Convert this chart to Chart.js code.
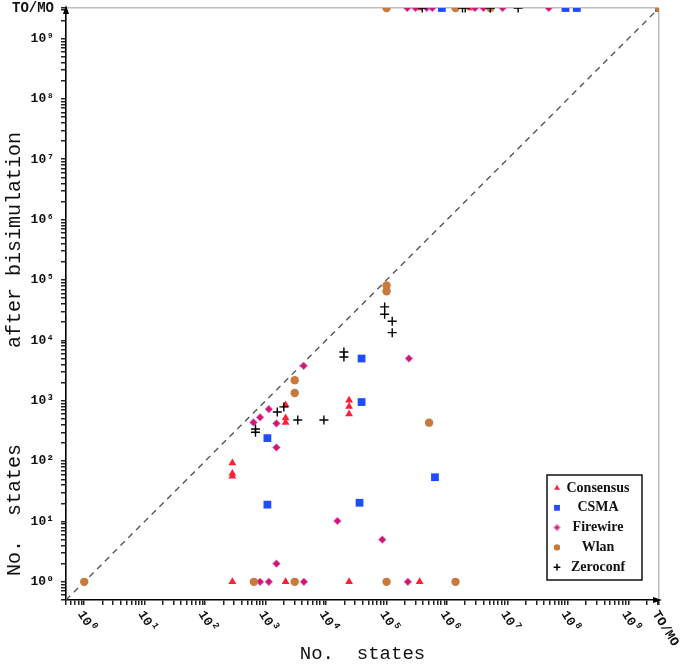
<!DOCTYPE html>
<html>
<head>
<meta charset="utf-8">
<title>No. states vs No. states after bisimulation</title>
<script src="https://cdn.jsdelivr.net/npm/chart.js@4.4.1/dist/chart.umd.min.js"></script>
<style>
  html, body { margin: 0; padding: 0; background: #fff; }
  #wrap { position: relative; width: 685px; height: 664px; }
</style>
</head>
<body>
<div id="wrap"><canvas id="bisimChart"></canvas></div>
<script>
// TO/MO (timeout / memory out) is plotted on the outer edge of both axes
const TO = 3.2e9;
const axisMin = 0.5;
const diagonal = [axisMin, TO];

const seriesNames = ['Consensus', 'CSMA', 'Firewire', 'Wlan', 'Zeroconf'];
const seriesColors = ['#ff1f35', '#1f4cff', '#d0157a', '#c77a3c', '#000000'];

// Consensus
const consensusX = [282, 2140, 24000, 352000, 282, 282, 282, 2140, 2140, 2140, 24000, 24000, 24000, 338000, 2450000];
const consensusY = [1, 1, 1, 1, 93, 62, 56, 850, 515, 436, 1020, 800, 600, TO, TO];

// CSMA
const csmaX = [38600, 38600, 1070, 1070, 35700, 631000, 820000, 9.1e7, 1.4e8, TO];
const csmaY = [5000, 950, 240, 19, 20.4, 54, TO, TO, TO, TO];

// Firewire
const firewireX = [4260, 1130, 810, 630, 1510, 1510, 1510, 15400, 85000, 234000, 810, 1130, 4300, 225000,
                   2.2e5, 3.0e5, 4.6e5, 5.7e5, 2.9e6, 4.0e6, 8.3e6, 4.8e7];
const firewireY = [3780, 725, 530, 437, 420, 168, 2.0, 10.2, 5.0, 5000, 1, 1, 1, 1,
                   TO, TO, TO, TO, TO, TO, TO, TO];

// Wlan
const wlanX = [1, 640, 3030, 1e5, 1.38e6, 3030, 3030, 505000, 1e5, 1e5, 1e5, 1.38e6, 5.2e6, TO];
const wlanY = [1, 1, 1, 1, 1, 2190, 1340, 433, 81000, 65000, TO, TO, TO, TO];

// Zeroconf
const zeroconfX = [19700, 19700, 93000, 93000, 124000, 124000, 2000, 1560, 3400, 9200, 680, 680,
                   3.9e5, 1.8e6, 2.0e6, 5.2e6, 1.5e7];
const zeroconfY = [6400, 5300, 35800, 27000, 20700, 13400, 790, 650, 480, 480, 340, 300,
                   TO, TO, TO, TO, TO];

const sup = ['\u2070', '\u00b9', '\u00b2', '\u00b3', '\u2074', '\u2075', '\u2076', '\u2077', '\u2078', '\u2079'];

function zip(xs, ys) {
    return xs.map((x, i) => ({ x: x, y: ys[i] }));
}

// decades get a label, 2..9 get a plain minor tick, TO/MO closes the axis
function buildLogTicks(scale) {
    const ticks = [];
    for (let e = -1; e <= 9; e++) {
        for (let m = 1; m <= 9; m++) {
            const v = m * Math.pow(10, e);
            if (v >= scale.min && v < TO * 0.99) ticks.push({ value: v, dec: m === 1 ? e : null });
        }
    }
    ticks.push({ value: TO, tomo: true });
    scale.ticks = ticks;
}

// keep the plot box where it is, whatever the label sizes
function fixBox(size) {
    return function(s) {
        if (s.isHorizontal()) s.height = size; else s.width = size;
        s.paddingTop = 0;
        s.paddingBottom = 0;
        s.paddingLeft = 0;
        s.paddingRight = 0;
    };
}

const markers = [
    { pointStyle: 'triangle', radius: 4.5, borderWidth: 0 },
    { pointStyle: 'rect', radius: 5.5, borderWidth: 0 },
    { pointStyle: 'rectRot', radius: 3.8, borderWidth: 1 },
    { pointStyle: 'circle', radius: 4.2, borderWidth: 0 },
    { pointStyle: 'cross', radius: 4.5, borderWidth: 1.4 }
];

const seriesData = [
    zip(consensusX, consensusY),
    zip(csmaX, csmaY),
    zip(firewireX, firewireY),
    zip(wlanX, wlanY),
    zip(zeroconfX, zeroconfY)
];

const datasets = seriesNames.map((name, i) => ({
    label: name,
    data: seriesData[i],
    pointStyle: markers[i].pointStyle,
    pointRadius: markers[i].radius,
    pointHoverRadius: markers[i].radius,
    pointBorderWidth: markers[i].borderWidth,
    backgroundColor: seriesColors[i],
    borderColor: i === 2 ? 'rgba(235,120,180,0.8)' : seriesColors[i],
    order: 5 - i
}));

// y = x reference line
datasets.push({
    type: 'line',
    label: 'diagonal',
    data: [{ x: diagonal[0], y: diagonal[0] }, { x: diagonal[1], y: diagonal[1] }],
    borderColor: '#4d5a5a',
    borderWidth: 1.4,
    borderDash: [6, 5],
    pointRadius: 0,
    fill: false,
    order: 10
});

const monoFont = '"Liberation Mono", "DejaVu Sans Mono", monospace';

// x tick labels are turned clockwise, which Chart.js can't do itself
const xLabelsPlugin = {
    id: 'xLabels',
    afterDraw(chart) {
        const ctx = chart.ctx;
        const xs = chart.scales.x;
        const y0 = chart.chartArea.bottom + 12;
        ctx.save();
        ctx.fillStyle = '#111';
        ctx.textBaseline = 'middle';
        ctx.textAlign = 'left';
        xs.ticks.forEach(t => {
            if (t.dec == null && !t.tomo) return;
            const px = xs.getPixelForValue(t.value);
            ctx.save();
            ctx.translate(px - 4, y0);
            ctx.rotate(58 * Math.PI / 180);
            if (t.tomo) {
                ctx.font = 'bold 13px ' + monoFont;
                ctx.fillText('TO/MO', 0, 0);
            } else {
                ctx.font = 'bold 13px ' + monoFont;
                ctx.fillText('10', 0, 0);
                const w = ctx.measureText('10').width;
                ctx.font = 'bold 9px ' + monoFont;
                ctx.fillText(String(t.dec), w + 1, -5);
            }
            ctx.restore();
        });
        ctx.restore();
    }
};

// arrow heads on the axes and the boxed legend
const decorPlugin = {
    id: 'decor',
    afterDraw(chart) {
        const ctx = chart.ctx;
        const a = chart.chartArea;
        ctx.save();
        ctx.fillStyle = '#000';
        ctx.beginPath();
        ctx.moveTo(a.left, a.top - 3);
        ctx.lineTo(a.left - 3, a.top + 6);
        ctx.lineTo(a.left + 3, a.top + 6);
        ctx.closePath();
        ctx.fill();
        ctx.beginPath();
        ctx.moveTo(a.right + 3, a.bottom);
        ctx.lineTo(a.right - 6, a.bottom - 3);
        ctx.lineTo(a.right - 6, a.bottom + 3);
        ctx.closePath();
        ctx.fill();

        // legend box
        const bx = 547, by = 475, bw = 95, bh = 105;
        ctx.fillStyle = '#fff';
        ctx.fillRect(bx, by, bw, bh);
        ctx.strokeStyle = '#111';
        ctx.lineWidth = 1.5;
        ctx.strokeRect(bx, by, bw, bh);
        ctx.font = 'bold 14px "Liberation Serif", "DejaVu Serif", serif';
        ctx.textBaseline = 'middle';
        ctx.textAlign = 'center';
        seriesNames.forEach((name, i) => {
            const ry = by + 13 + i * 19.8;
            ctx.fillStyle = seriesColors[i];
            ctx.strokeStyle = i === 2 ? 'rgba(235,120,180,0.8)' : seriesColors[i];
            Chart.helpers.drawPoint(ctx, {
                pointStyle: markers[i].pointStyle,
                radius: markers[i].radius * 0.75,
                borderWidth: markers[i].borderWidth,
                rotation: 0
            }, bx + 10, ry);
            ctx.fillStyle = '#111';
            ctx.fillText(name, bx + 51, ry);
        });
        ctx.restore();
    }
};

const ctx = document.getElementById('bisimChart').getContext('2d');
const bisimChart = new Chart(ctx, {
    type: 'scatter',
    data: { datasets: datasets },
    options: {
        responsive: true,
        maintainAspectRatio: false,
        animation: false,
        layout: { padding: { top: 8, right: 26, left: 0, bottom: 0 } },
        plugins: {
            legend: { display: false }, // drawn by decorPlugin
            tooltip: { enabled: false }
        },
        scales: {
            x: {
                type: 'logarithmic',
                min: axisMin,
                max: TO,
                afterBuildTicks: buildLogTicks,
                afterFit: fixBox(64),
                border: { color: '#000', width: 1.6 },
                grid: {
                    color: c => (c.tick && c.tick.value === TO) ? '#b9bec2' : 'rgba(0,0,0,0)',
                    lineWidth: 1.5,
                    tickColor: '#222',
                    tickLength: 5
                },
                ticks: { autoSkip: false, maxRotation: 0, callback: () => '' },
                title: {
                    display: true,
                    text: 'No.  states',
                    color: '#111',
                    font: { family: monoFont, size: 19, lineHeight: 1 },
                    padding: { top: 0, bottom: 1 }
                }
            },
            y: {
                type: 'logarithmic',
                min: axisMin,
                max: TO,
                afterBuildTicks: buildLogTicks,
                afterFit: fixBox(66),
                border: { color: '#000', width: 1.6 },
                grid: {
                    color: c => (c.tick && c.tick.value === TO) ? '#b9bec2' : 'rgba(0,0,0,0)',
                    lineWidth: 1.5,
                    tickColor: '#222',
                    tickLength: 5
                },
                ticks: {
                    autoSkip: false,
                    padding: 7,
                    color: '#111',
                    font: c => ({ family: monoFont, size: (c.tick && c.tick.tomo) ? 14 : 13, weight: 'bold' }),
                    callback: (value, index, ticks) => {
                        const t = ticks[index];
                        if (t.tomo) return 'TO/MO';
                        if (t.dec != null) return '10' + sup[t.dec];
                        return '';
                    }
                },
                title: {
                    display: true,
                    text: '  No.  states        after bisimulation',
                    align: 'start',
                    color: '#111',
                    font: { family: monoFont, size: 20, lineHeight: 1 },
                    padding: { top: 5, bottom: 0 }
                }
            }
        }
    },
    plugins: [xLabelsPlugin, decorPlugin]
});
</script>
</body>
</html>
